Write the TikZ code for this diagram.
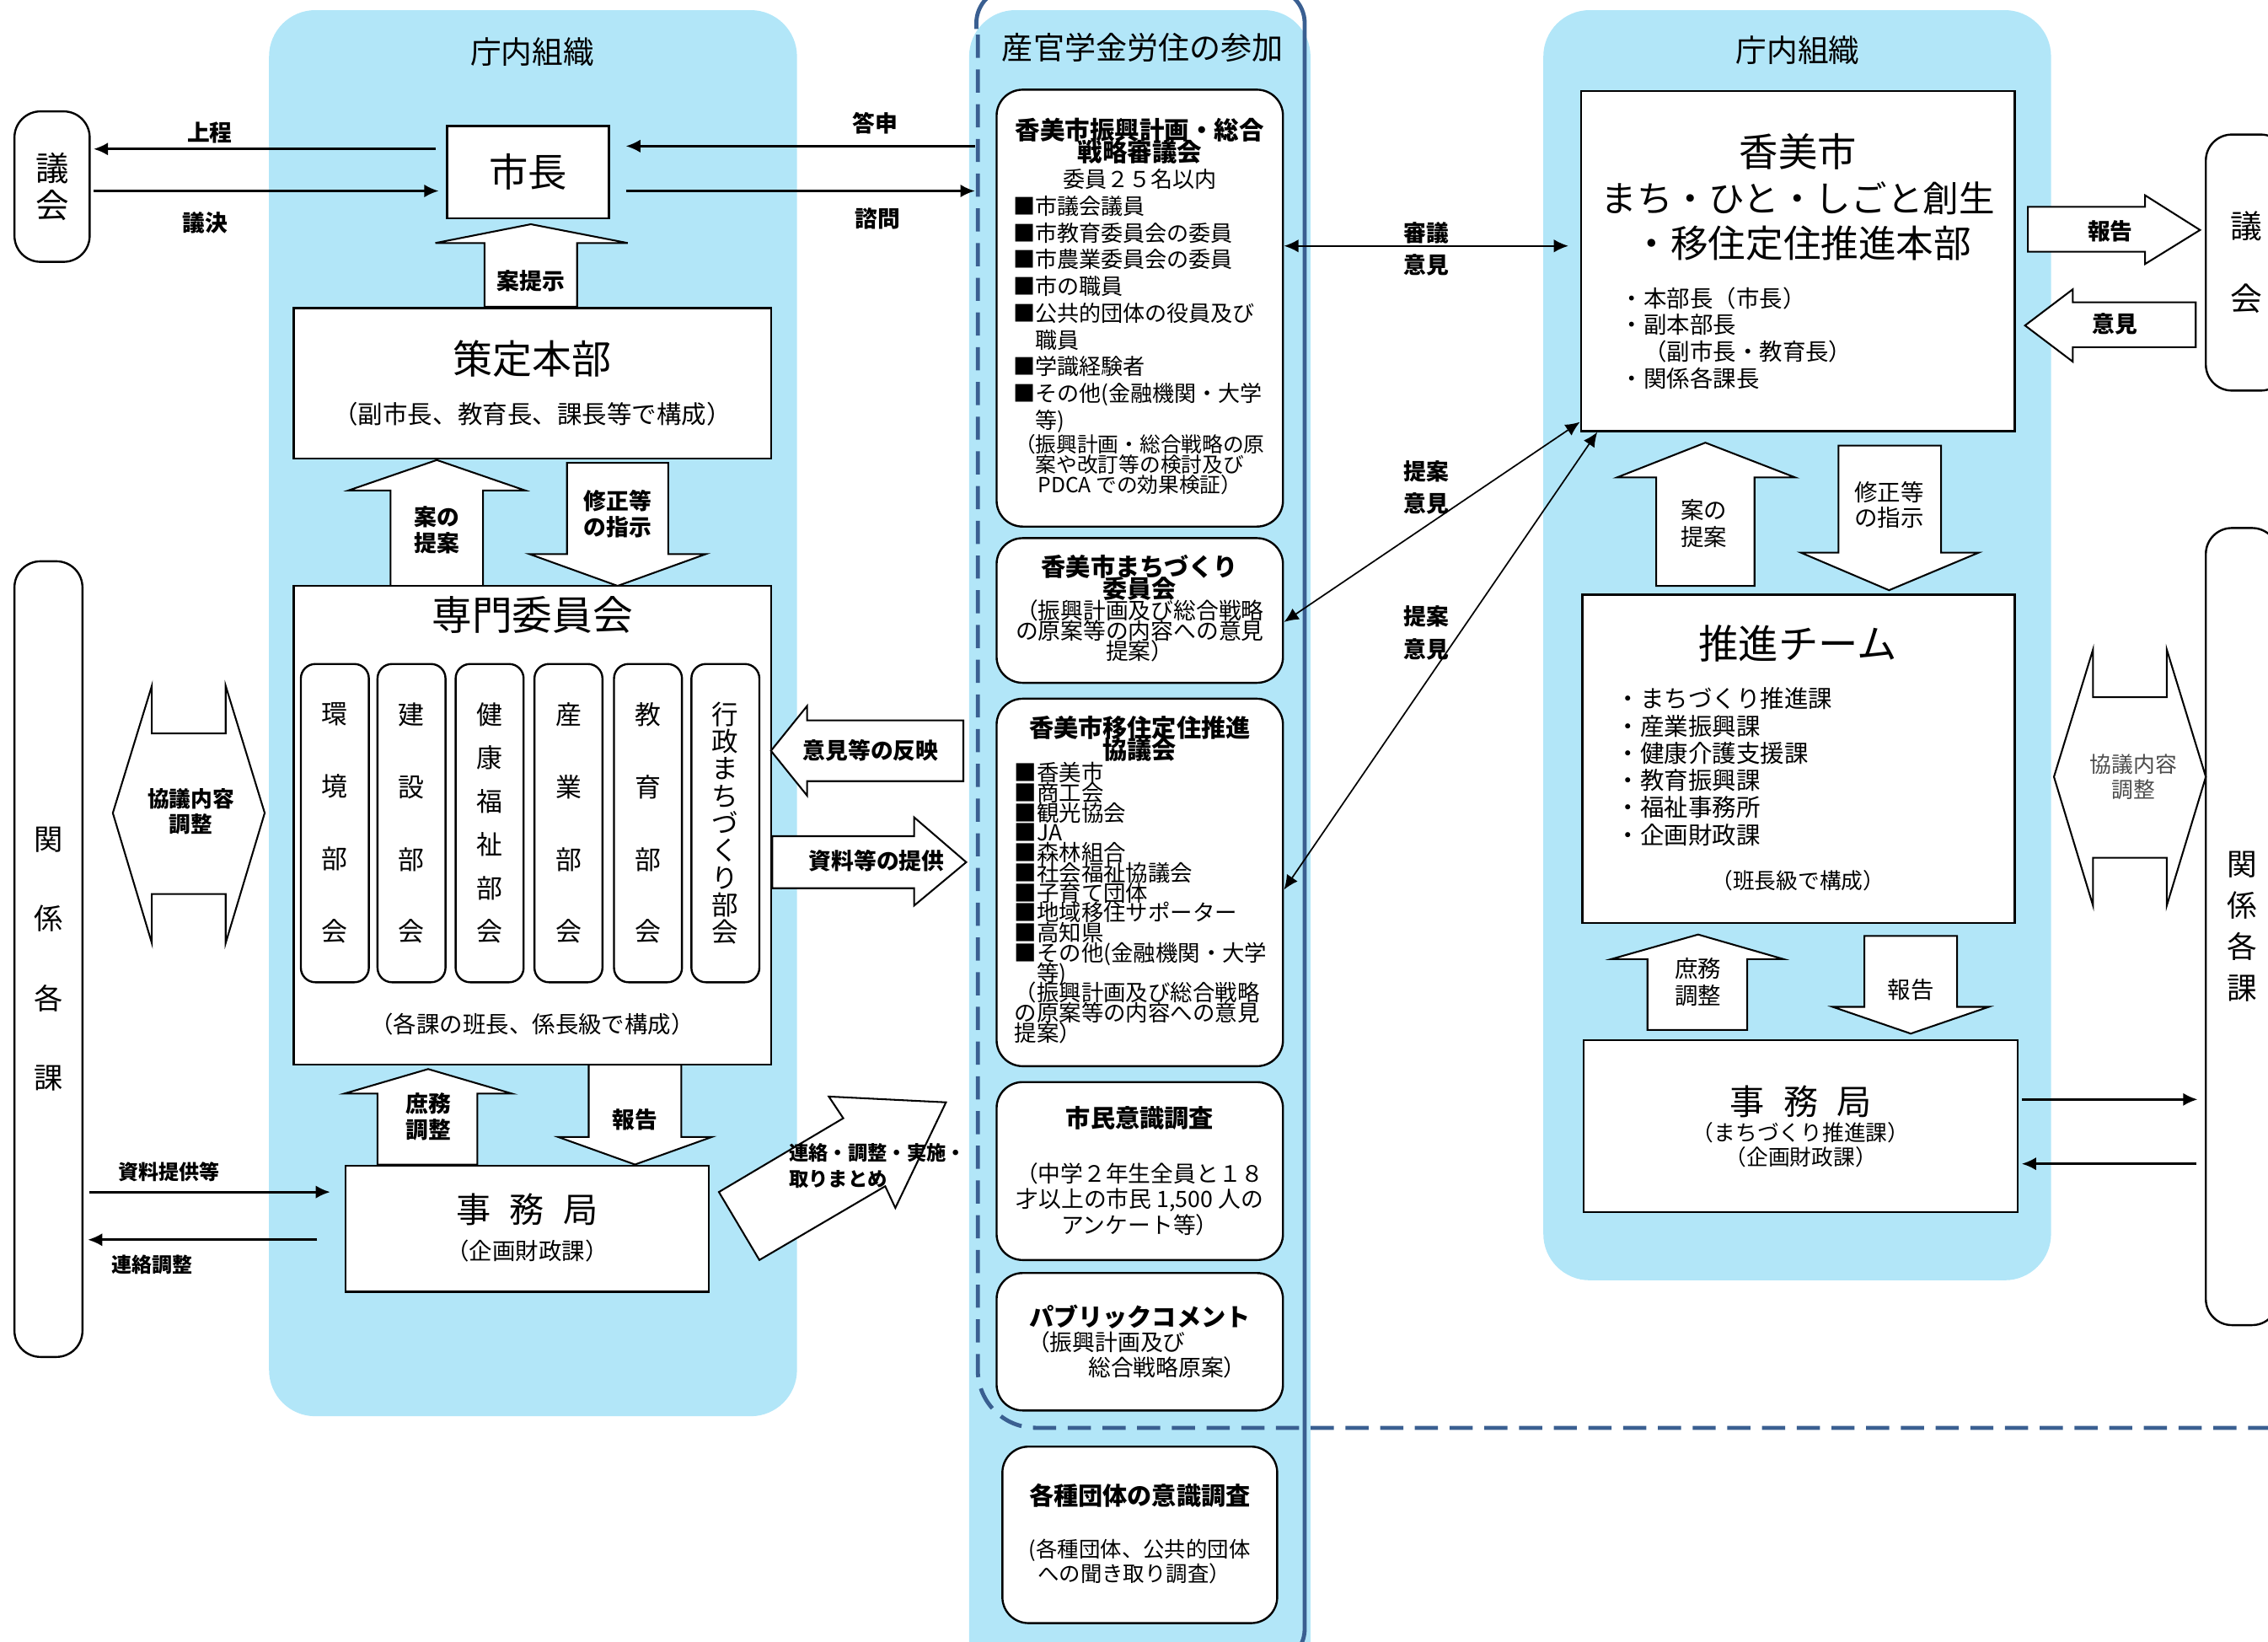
\documentclass[tikz,border=0pt]{standalone}
\usepackage{fontspec}
\setmainfont{Noto Sans CJK JP}
\usetikzlibrary{arrows.meta}
\definecolor{paleblue}{RGB}{178,230,248}
\definecolor{frameblue}{RGB}{58,95,145}
\newcommand{\fsz}[2]{\fontsize{#1}{#2}\selectfont\lineskiplimit=-20pt}

\begin{document}
\begin{tikzpicture}[x=0.5pt,y=-0.5pt]
\tikzset{box/.style={draw,line width=0.7pt,fill=white,inner sep=0pt,align=center},
  rbox/.style={box,rounded corners=9pt},
  blk/.style={draw,line width=0.6pt,fill=white},
  conn/.style={line width=0.8pt,-{Latex[length=5pt,width=4.5pt]}},
  twoway/.style={line width=0.6pt,{Latex[length=5pt,width=4.5pt]}-{Latex[length=5pt,width=4.5pt]}},
  lbl/.style={inner sep=0pt,align=center,font=\bfseries\fsz{7.8}{9}},
  txt/.style={inner sep=0pt,align=center,font=\fsz{8}{9.2}},
  lst/.style={inner sep=0pt,align=left,anchor=north west,font=\fsz{7.6}{9.25}},
  ttl/.style={inner sep=0pt,align=center,font=\bfseries\fsz{8.5}{7.5}}}
\useasboundingbox (0,0) rectangle (1568,1134.5);

% columns
\fill[paleblue,rounded corners=16pt] (186,7) rectangle (551,979);
\fill[paleblue,rounded corners=16pt] (670,7) rectangle (906,1170);
\fill[paleblue,rounded corners=16pt] (1067,7) rectangle (1418,885);
\draw[frameblue,line width=1.4pt,rounded corners=12pt] (675,20) -- (675,-8) -- (902,-8) -- (902,1150) -- (860,1150);
\draw[frameblue,line width=1.4pt,dash pattern=on 8pt off 4pt,rounded corners=20pt] (676,24) -- (676,987) -- (1568,987);
\coordinate (partL) at (674,0);

% left column
\node[txt,font=\fsz{10.7}{12}] at (368,36) {庁内組織};
\node[rbox,minimum width=26pt,minimum height=52pt,font=\fsz{11.5}{12.75}] (gikaiL) at (36,129) {議\\会};
\node[box,minimum width=56pt,minimum height=32pt,font=\fsz{13.5}{14}] (mayor) at (365,119) {市長};
\draw[conn,shorten <=3.5pt,shorten >=1pt] (mayor.west |- 0,103) -- (gikaiL.east |- 0,103);
\draw[conn,shorten <=1pt,shorten >=2.5pt] (gikaiL.east |- 0,132) -- (mayor.west |- 0,132);
\node[lbl] at (145,92) {上程};
\node[lbl] at (142,154) {議決};
\draw[conn,shorten >=5.5pt] (partL |- 0,101) -- (mayor.east |- 0,101);
\draw[conn,shorten <=5.5pt] (mayor.east |- 0,132) -- (partL |- 0,132);
\node[lbl] at (605,85) {答申};
\node[lbl] at (607,151) {諮問};

\draw[blk] (367,155) -- (434,168) -- (399,168) -- (399,212) -- (335,212) -- (335,168) -- (301,168) -- cycle;
\node[lbl] at (367,194) {案提示};
\node[box,minimum width=165pt,minimum height=52pt] (sakutei) at (368,265) {};
\node[txt,font=\fsz{13.7}{14}] at (368,248) {策定本部};
\node[txt,font=\fsz{8.6}{10}] at (368,286) {（副市長、教育長、課長等で構成）};

\draw[blk] (302,318) -- (363,339) -- (334,339) -- (334,405) -- (270,405) -- (270,339) -- (241,339) -- cycle;
\node[lbl] at (302,366.5) {案の\\提案};
\draw[blk] (392,320) -- (462,320) -- (462,383) -- (488,383) -- (427,405) -- (366,383) -- (392,383) -- cycle;
\node[lbl] at (427,355.5) {修正等\\の指示};

\node[box,minimum width=165pt,minimum height=165.5pt] (senmon) at (368,570.5) {};
\node[txt,font=\fsz{13.9}{14}] at (368,425) {専門委員会};
\node[rbox,rounded corners=5pt,minimum width=23.5pt,minimum height=110pt,font=\fsz{9}{25}] (kankyo) at (231.5,569) {環\\境\\部\\会};
\node[rbox,rounded corners=5pt,minimum width=23.5pt,minimum height=110pt,font=\fsz{9}{25}] (kensetsu) at (284.5,569) {建\\設\\部\\会};
\node[rbox,rounded corners=5pt,minimum width=23.5pt,minimum height=110pt,font=\fsz{9}{15}] (kenko) at (338.5,569) {健\\康\\福\\祉\\部\\会};
\node[rbox,rounded corners=5pt,minimum width=23.5pt,minimum height=110pt,font=\fsz{9}{25}] (sangyo) at (393,569) {産\\業\\部\\会};
\node[rbox,rounded corners=5pt,minimum width=23.5pt,minimum height=110pt,font=\fsz{9}{25}] (kyoiku) at (448,569) {教\\育\\部\\会};
\node[rbox,rounded corners=5pt,minimum width=23.5pt,minimum height=110pt,font=\fsz{9.2}{9.4}] (gyosei) at (501.5,569) {行\\政\\ま\\ち\\づ\\く\\り\\部\\会};
\node[txt] at (368,708) {（各課の班長、係長級で構成）};

\node[rbox,minimum width=23.5pt,minimum height=275pt,font=\fsz{10}{27.5}] (kankeiL) at (33.5,663) {関\\係\\各\\課};
\draw[blk] (78,562) -- (105,474) -- (105,507) -- (156,507) -- (156,474) -- (183,562) -- (156,652) -- (156,618) -- (105,618) -- (105,652) -- cycle;
\node[lbl,font=\bfseries\fsz{7.5}{8.5}] at (132,561) {協議内容\\調整};

\draw[blk] (533,519) -- (558,488) -- (558,498) -- (666,498) -- (666,540) -- (558,540) -- (558,550) -- cycle;
\node[lbl] at (602,519) {意見等の反映};
\draw[blk] (534,578) -- (632,578) -- (632,565) -- (668,596) -- (632,626) -- (632,614) -- (534,614) -- cycle;
\node[lbl] at (606,595) {資料等の提供};

\draw[blk] (296,739) -- (354,756) -- (330,756) -- (330,805) -- (261,805) -- (261,756) -- (238,756) -- cycle;
\node[lbl] at (296,772) {庶務\\調整};
\draw[blk] (407,736) -- (471,736) -- (471,786) -- (492,786) -- (439,805) -- (386,786) -- (407,786) -- cycle;
\node[lbl] at (439,774) {報告};

\node[box,minimum width=125.5pt,minimum height=43.5pt] (jimuL) at (364.5,849.5) {};
\node[txt,font=\fsz{12}{13}] at (364.5,836) {事\hspace{6.5pt}務\hspace{6.5pt}局};
\node[txt] at (364.5,865) {（企画財政課）};
\draw[conn,shorten <=2pt,shorten >=5pt] (kankeiL.east |- 0,824) -- (jimuL.west |- 0,824);
\draw[conn,shorten <=9.5pt,shorten >=1.5pt] (jimuL.west |- 0,857) -- (kankeiL.east |- 0,857);
\node[lbl,font=\bfseries\fsz{7}{8}] at (117,810) {資料提供等};
\node[lbl,font=\bfseries\fsz{7}{8}] at (105,874) {連絡調整};

\draw[blk] (497,824) -- (583,773) -- (573,758) -- (654,762) -- (619,835) -- (612,820) -- (525,871) -- cycle;
\node[lbl,align=left,anchor=west,font=\bfseries\fsz{6.8}{9}] at (545,806) {連絡・調整・実施・\\取りまとめ};

% middle column
\node[txt,font=\fsz{10.8}{12}] at (790,33) {産官学金労住の参加};

\node[rbox,minimum width=99pt,minimum height=151pt] (shingikai) at (788,213) {};
\node[ttl,font=\bfseries\fsz{8.6}{7.6}] at (788,97.5) {香美市振興計画・総合\\戦略審議会};
\node[txt,font=\fsz{7.6}{9}] at (788,124) {委員２５名以内};
\node[lst] at (700,135) {■市議会議員\\■市教育委員会の委員\\■市農業委員会の委員\\■市の職員\\■公共的団体の役員及び\\\hphantom{■}職員\\■学識経験者\\■その他(金融機関・大学\\\hphantom{■}等)};
\node[txt,font=\fsz{7.2}{7}] at (788,321) {（振興計画・総合戦略の原\\案や改訂等の検討及び\\PDCA での効果検証）};

\node[rbox,minimum width=99pt,minimum height=50pt] (machiiin) at (788,422) {};
\node[ttl] at (788,399.5) {香美市まちづくり\\委員会};
\node[txt,font=\fsz{7.8}{7}] at (788,436) {（振興計画及び総合戦略\\の原案等の内容への意見\\提案）};

\node[rbox,minimum width=99pt,minimum height=127pt] (ijukyo) at (788,610) {};
\node[ttl] at (788,510.5) {香美市移住定住推進\\協議会};
\node[lst,font=\fsz{7.7}{6.92}] at (701,526.5) {■香美市\\■商工会\\■観光協会\\■JA\\■森林組合\\■社会福祉協議会\\■子育て団体\\■地域移住サポーター\\■高知県\\■その他(金融機関・大学\\\hphantom{■}等)\\（振興計画及び総合戦略\\の原案等の内容への意見\\提案）};

\node[rbox,minimum width=99pt,minimum height=61.5pt] (shimin) at (788,809.5) {};
\node[ttl] at (788,773) {市民意識調査};
\node[txt,font=\fsz{7.8}{9}] at (788,829) {（中学２年生全員と１８\\才以上の市民 1,500 人の\\アンケート等）};

\node[rbox,minimum width=99pt,minimum height=47.5pt] (pubcom) at (788,927.5) {};
\node[ttl] at (788,910) {パブリックコメント};
\node[txt,font=\fsz{7.8}{9},anchor=west] at (710,928) {（振興計画及び};
\node[txt,font=\fsz{7.8}{9},anchor=east] at (862,945) {総合戦略原案）};

\node[rbox,minimum width=95pt,minimum height=61pt] (dantai) at (788,1061) {};
\node[ttl] at (788,1034) {各種団体の意識調査};
\node[txt,font=\fsz{7.4}{8.6},align=left,anchor=west] at (711,1079.5) {(各種団体、公共的団体\\\hspace{3pt}への聞き取り調査）};

% right column
\node[txt,font=\fsz{10.7}{12}] at (1243,35) {庁内組織};
\node[box,minimum width=150pt,minimum height=117.5pt] (honbu) at (1243,180.5) {};
\node[txt,font=\fsz{13.5}{14}] at (1243,105) {香美市};
\node[txt,font=\fsz{12.4}{14}] at (1243,137) {まち・ひと・しごと創生};
\node[txt,font=\fsz{13}{14}] at (1246,168) {・移住定住推進本部};
\node[lst,font=\fsz{8}{9.3}] at (1120,198) {・本部長（市長）\\・副本部長\\\hphantom{・}（副市長・教育長）\\・関係各課長};

\draw[twoway,shorten >=4pt] (shingikai.east |- 0,170) -- (honbu.west |- 0,170);
\node[lbl,font=\bfseries\fsz{7.8}{11}] at (986,172) {審議\\意見};
\draw[twoway,line width=0.5pt] (machiiin.east |- 0,430) -- ([yshift=3.5pt]honbu.south west);
\node[lbl,font=\bfseries\fsz{7.8}{11}] at (986,337) {提案\\意見};
\draw[twoway,line width=0.5pt] (ijukyo.east |- 0,615) -- ([xshift=6pt]honbu.south west);
\node[lbl,font=\bfseries\fsz{7.8}{11.5}] at (986,437.5) {提案\\意見};

\draw[blk] (1179,306) -- (1241,330) -- (1213,330) -- (1213,405) -- (1145,405) -- (1145,330) -- (1118,330) -- cycle;
\node[txt] at (1178,362) {案の\\提案};
\draw[blk] (1271,308) -- (1342,308) -- (1342,382) -- (1368,382) -- (1306,408) -- (1245,382) -- (1271,382) -- cycle;
\node[txt,font=\fsz{8}{8.75}] at (1306,349) {修正等\\の指示};

\node[box,minimum width=149.5pt,minimum height=113.5pt] (suishin) at (1243.5,524.5) {};
\node[txt,font=\fsz{13.8}{14}] at (1243,445) {推進チーム};
\node[lst,font=\fsz{8.3}{9.4}] at (1117,475) {・まちづくり推進課\\・産業振興課\\・健康介護支援課\\・教育振興課\\・福祉事務所\\・企画財政課};
\node[txt,font=\fsz{7.5}{9}] at (1243,609) {（班長級で構成）};

\draw[blk] (1174,646) -- (1233,663) -- (1208,663) -- (1208,712) -- (1139,712) -- (1139,663) -- (1114,663) -- cycle;
\node[txt] at (1174,679) {庶務\\調整};
\draw[blk] (1289,647) -- (1353,647) -- (1353,696) -- (1375,696) -- (1321,714.5) -- (1267,696) -- (1289,696) -- cycle;
\node[txt] at (1321,684) {報告};

\node[box,minimum width=150pt,minimum height=59.5pt] (jimuR) at (1245,778.5) {};
\node[txt,font=\fsz{12}{13}] at (1245,761.5) {事\hspace{6.5pt}務\hspace{6.5pt}局};
\node[txt,font=\fsz{7.5}{8.6}] at (1245,791.5) {（まちづくり推進課）\\（企画財政課）};

\node[rbox,minimum width=28pt,minimum height=88.5pt,font=\fsz{11}{25}] (gikaiR) at (1553,181.5) {議\\会};
\draw[blk] (1402,143) -- (1483,143) -- (1483,135) -- (1521,159) -- (1483,182.5) -- (1483,174) -- (1402,174) -- cycle;
\node[lbl] at (1459,160) {報告};
\draw[blk] (1400,225) -- (1433,200) -- (1433,209) -- (1518,209) -- (1518,240) -- (1433,240) -- (1433,250) -- cycle;
\node[lbl] at (1462,224) {意見};

\node[rbox,minimum width=25pt,minimum height=275.5pt,font=\fsz{10.4}{14.2}] (kankeiR) at (1550,640.5) {関\\係\\各\\課};
\draw[blk] (1420,537) -- (1447,449) -- (1447,482) -- (1498,482) -- (1498,449) -- (1525,537) -- (1498,626) -- (1498,593) -- (1447,593) -- (1447,626) -- cycle;
\node[txt,text=black!70,font=\fsz{7.5}{8.6}] at (1475,537) {協議内容\\調整};
\draw[conn,shorten <=1pt,shorten >=2.5pt] (jimuR.east |- 0,760) -- (kankeiR.west |- 0,760);
\draw[conn,shorten <=3pt,shorten >=1pt] (kankeiR.west |- 0,804.5) -- (jimuR.east |- 0,804.5);
\end{tikzpicture}
\end{document}
